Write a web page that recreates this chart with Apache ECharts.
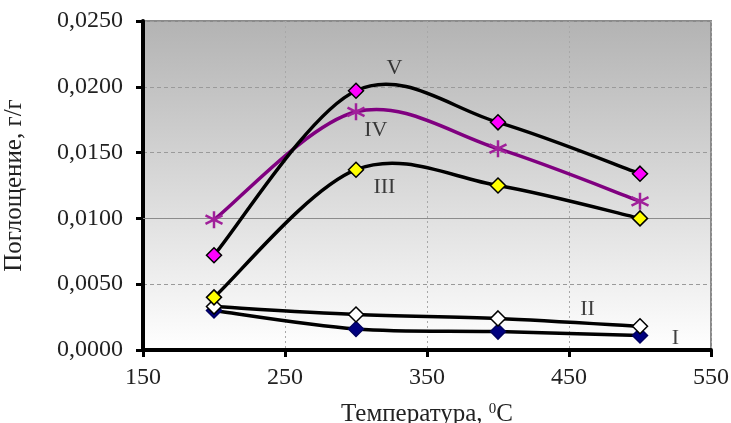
<!DOCTYPE html>
<html><head><meta charset="utf-8">
<script src="https://cdn.jsdelivr.net/npm/echarts@6/dist/echarts.min.js"></script>
<style>html,body{margin:0;padding:0;background:#fff}#c{width:731px;height:423px}</style>
</head><body><div id="c"></div>
<script>
const temps = [200, 300, 400, 500];
const seriesI   = [0.0030, 0.0016, 0.0014, 0.0011];
const seriesII  = [0.0033, 0.0027, 0.0024, 0.0018];
const seriesIII = [0.0040, 0.0137, 0.0125, 0.0100];
const seriesIV  = [0.0099, 0.0181, 0.0153, 0.0113];
const seriesV   = [0.0072, 0.0197, 0.0173, 0.0134];
const labelNames = ['V', 'IV', 'III', 'II', 'I'];
const labelX = [327, 314, 320, 463, 525];
const labelY = [0.0214, 0.0167, 0.0124, 0.0031, 0.0009];

const serif = '"Liberation Serif", "Times New Roman", serif';
const pair = arr => temps.map((t, i) => [t, arr[i]]);
const starPath = 'path://M5,0L5,10M0.7,2.5L9.3,7.5M0.7,7.5L9.3,2.5';

// Excel-like smoothed curve (Catmull-Rom as cubic Bezier), drawn through the axis scales
function curveSeries(data, color, width, z) {
  const pts = pair(data);
  return {
    type: 'custom', data: pts.slice(0, pts.length - 1), z: z, silent: true, clip: true,
    renderItem: (params, api) => {
      const i = params.dataIndex;
      const P = k => api.coord(pts[Math.max(0, Math.min(pts.length - 1, k))]);
      const p0 = P(i - 1), p1 = P(i), p2 = P(i + 1), p3 = P(i + 2);
      const t = 1 / 6;
      return {
        type: 'bezierCurve',
        shape: {
          x1: p1[0], y1: p1[1], x2: p2[0], y2: p2[1],
          cpx1: p1[0] + (p2[0] - p0[0]) * t, cpy1: p1[1] + (p2[1] - p0[1]) * t,
          cpx2: p2[0] - (p3[0] - p1[0]) * t, cpy2: p2[1] - (p3[1] - p1[1]) * t
        },
        style: { stroke: color, lineWidth: width, fill: null, lineCap: 'round' }
      };
    }
  };
}

function markerSeries(name, data, fill, border, symbol, size, bw, z) {
  return {
    name, type: 'line', data: pair(data), z: z,
    symbol: symbol || 'diamond', symbolSize: size || 15, showSymbol: true,
    lineStyle: { width: 0, opacity: 0 },
    itemStyle: { color: fill, borderColor: border, borderWidth: bw || 1.5 }
  };
}

const chart = echarts.init(document.getElementById('c'), null, { renderer: 'canvas' });
chart.setOption({
  animation: false,
  grid: {
    left: 143, right: 20, top: 21, bottom: 73, show: true,
    containLabel: false, outerBoundsMode: 'none',
    borderColor: '#8a8a8a', borderWidth: 2,
    backgroundColor: new echarts.graphic.LinearGradient(0, 0, 0, 1, [
      { offset: 0, color: '#b3b3b3' }, { offset: 1, color: '#ffffff' }
    ])
  },
  xAxis: {
    type: 'value', min: 150, max: 550, interval: 100,
    name: 'Температура, {s|0}C', nameLocation: 'middle', nameGap: 52,
    nameTextStyle: { fontFamily: serif, fontSize: 25, color: '#222', padding: [0, 0, 0, 0],
      rich: { s: { fontSize: 15, verticalAlign: 'top', padding: [0, 0, 9, 0], fontFamily: serif, color: '#222' } } },
    axisLine: { lineStyle: { color: '#000', width: 4 } },
    axisTick: { show: true, length: 7, lineStyle: { color: '#000', width: 3 } },
    axisLabel: { fontFamily: serif, fontSize: 24, color: '#222', margin: 16 },
    splitLine: { show: true, lineStyle: { color: '#a8a8a8', type: [2, 3], width: 1 } }
  },
  yAxis: {
    type: 'value', min: 0, max: 0.025, interval: 0.005,
    name: 'Поглощение, г/г', nameLocation: 'middle', nameGap: 116,
    nameTextStyle: { fontFamily: serif, fontSize: 25, color: '#222' },
    axisLine: { show: true, lineStyle: { color: '#000', width: 4 } },
    axisTick: { show: true, length: 7, lineStyle: { color: '#000', width: 3 } },
    axisLabel: { fontFamily: serif, fontSize: 24, color: '#222', margin: 20,
      formatter: v => v.toFixed(4).replace('.', ',') },
    splitLine: { show: true, lineStyle: { color: '#9a9a9a', type: [4, 3], width: 1 } }
  },
  series: [
    Object.assign(curveSeries(seriesI, '#000', 3.5, 2), {
      markLine: { silent: true, symbol: 'none', label: { show: false },
        lineStyle: { color: '#8c8c8c', type: 'solid', width: 1 }, data: [{ yAxis: 0.015 }] }
    }),
    markerSeries('I', seriesI, '#000080', '#000060', 'diamond', 15, 1.5, 3),
    curveSeries(seriesII, '#000', 3.5, 4),
    markerSeries('II', seriesII, '#ffffff', '#000', 'diamond', 15, 1.5, 5),
    curveSeries(seriesIII, '#000', 3.5, 6),
    markerSeries('III', seriesIII, '#ffff00', '#000', 'diamond', 15, 1.5, 7),
    curveSeries(seriesIV, '#800080', 3.5, 8),
    markerSeries('IV', seriesIV, 'transparent', '#a0209a', starPath, 17, 2.5, 9),
    curveSeries(seriesV, '#000', 3.5, 10),
    markerSeries('V', seriesV, '#ff00ff', '#000', 'diamond', 15, 1.5, 11),
    {
      type: 'scatter', symbolSize: 0, z: 12, silent: true,
      data: labelNames.map((n, i) => ({ value: [labelX[i], labelY[i]], name: n })),
      label: { show: true, position: 'inside', formatter: p => p.name,
        fontFamily: serif, fontSize: 22, color: '#111' }
    }
  ]
});
</script></body></html>
